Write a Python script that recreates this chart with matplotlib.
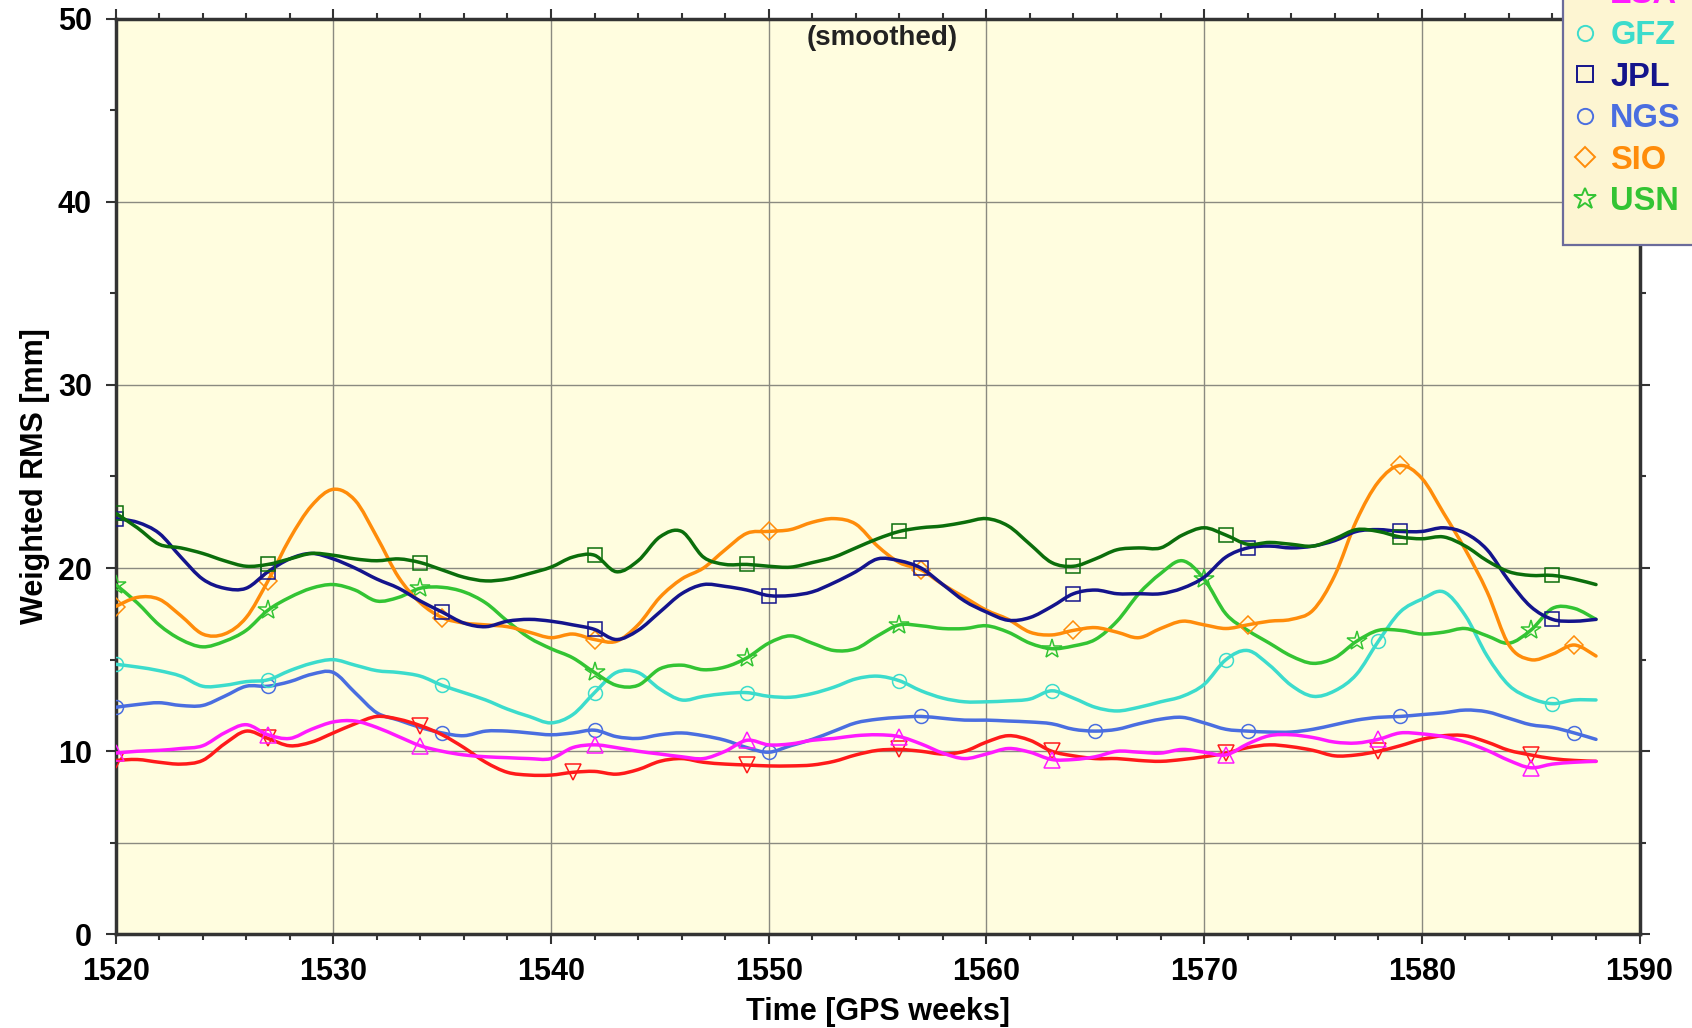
import numpy as np
import matplotlib
matplotlib.use("Agg")
import matplotlib.pyplot as plt
from matplotlib.lines import Line2D
from matplotlib.path import Path
from matplotlib.patches import PathPatch, Rectangle
from matplotlib.ticker import MultipleLocator

plt.rcParams['font.family'] = ['Liberation Sans', 'DejaVu Sans']

weeks = list(range(1520, 1589))

cod = [23.0, 22.2, 21.3, 21.1, 20.8, 20.4, 20.1, 20.2, 20.5, 20.8,
       20.7, 20.5, 20.4, 20.5, 20.3, 19.9, 19.5, 19.3, 19.4, 19.7,
       20.05, 20.6, 20.7, 19.8, 20.4, 21.7, 22.0, 20.6, 20.2, 20.2,
       20.1, 20.05, 20.3, 20.6, 21.1, 21.6, 22.0, 22.2, 22.3, 22.5,
       22.7, 22.3, 21.3, 20.3, 20.1, 20.5, 21.0, 21.1, 21.1, 21.8,
       22.2, 21.8, 21.3, 21.4, 21.3, 21.2, 21.6, 22.1, 22.0, 21.7,
       21.6, 21.7, 21.2, 20.4, 19.8, 19.6, 19.6, 19.4, 19.1]
emr = [9.5, 9.55, 9.4, 9.3, 9.5, 10.4, 11.1, 10.7, 10.3, 10.5,
       11.0, 11.5, 11.9, 11.75, 11.4, 10.9, 10.2, 9.4, 8.85, 8.7,
       8.7, 8.85, 8.9, 8.75, 9.0, 9.45, 9.6, 9.4, 9.3, 9.25,
       9.2, 9.2, 9.25, 9.45, 9.8, 10.05, 10.1, 10.0, 9.85, 10.0,
       10.5, 10.85, 10.6, 10.0, 9.75, 9.6, 9.6, 9.5, 9.45, 9.55,
       9.7, 9.9, 10.2, 10.35, 10.25, 10.05, 9.75, 9.8, 10.0, 10.3,
       10.65, 10.85, 10.85, 10.5, 10.05, 9.8, 9.6, 9.5, 9.45]
esa = [9.9, 10.0, 10.05, 10.15, 10.3, 11.0, 11.45, 10.9, 10.7, 11.2,
       11.6, 11.65, 11.3, 10.8, 10.3, 10.0, 9.8, 9.7, 9.65, 9.6,
       9.6, 10.2, 10.35, 10.2, 10.0, 9.85, 9.7, 9.6, 10.0, 10.6,
       10.35, 10.4, 10.6, 10.7, 10.85, 10.9, 10.8, 10.4, 9.9, 9.6,
       9.85, 10.15, 9.95, 9.55, 9.55, 9.7, 10.0, 9.95, 9.9, 10.1,
       9.95, 9.8, 10.4, 10.85, 10.9, 10.75, 10.5, 10.45, 10.65, 11.0,
       10.95, 10.8, 10.5, 10.05, 9.5, 9.1, 9.3, 9.4, 9.45]
gfz = [14.75, 14.6, 14.4, 14.1, 13.55, 13.6, 13.8, 13.9, 14.4, 14.8,
       15.0, 14.7, 14.4, 14.3, 14.1, 13.6, 13.2, 12.8, 12.3, 11.9,
       11.55, 12.0, 13.2, 14.3, 14.3, 13.4, 12.8, 13.0, 13.15, 13.2,
       13.0, 12.95, 13.15, 13.5, 13.95, 14.1, 13.85, 13.3, 12.9, 12.7,
       12.7, 12.75, 12.85, 13.3, 12.9, 12.4, 12.2, 12.4, 12.7, 13.0,
       13.65, 15.0, 15.5, 14.7, 13.6, 13.0, 13.3, 14.2, 16.0, 17.6,
       18.3, 18.7, 17.4, 15.2, 13.6, 12.9, 12.6, 12.8, 12.8]
jpl = [22.7, 22.5, 21.9, 20.6, 19.4, 18.9, 18.9, 19.8, 20.5, 20.8,
       20.5, 20.0, 19.4, 18.9, 18.2, 17.6, 17.0, 16.8, 17.1, 17.2,
       17.1, 16.9, 16.65, 16.1, 16.6, 17.6, 18.6, 19.1, 19.0, 18.8,
       18.5, 18.5, 18.7, 19.2, 19.8, 20.5, 20.4, 20.0, 19.1, 18.2,
       17.6, 17.15, 17.3, 17.9, 18.6, 18.8, 18.6, 18.6, 18.6, 18.9,
       19.5, 20.6, 21.1, 21.2, 21.1, 21.2, 21.5, 22.0, 22.1, 22.0,
       22.0, 22.2, 21.9, 21.0, 19.3, 17.9, 17.2, 17.1, 17.2]
ngs = [12.4, 12.55, 12.65, 12.5, 12.5, 13.0, 13.55, 13.55, 13.8, 14.2,
       14.3, 13.2, 12.1, 11.7, 11.3, 11.0, 10.85, 11.1, 11.1, 11.0,
       10.9, 11.0, 11.15, 10.8, 10.7, 10.9, 11.0, 10.85, 10.6, 10.2,
       9.95, 10.3, 10.65, 11.1, 11.55, 11.75, 11.85, 11.9, 11.8, 11.7,
       11.7, 11.65, 11.6, 11.5, 11.2, 11.1, 11.2, 11.5, 11.75, 11.85,
       11.55, 11.2, 11.1, 11.05, 11.05, 11.2, 11.45, 11.7, 11.85, 11.9,
       12.0, 12.1, 12.25, 12.15, 11.8, 11.45, 11.3, 11.0, 10.65]
sio = [17.9, 18.4, 18.3, 17.4, 16.4, 16.4, 17.3, 19.3, 21.6, 23.4,
       24.3, 23.7, 21.7, 19.5, 18.1, 17.3, 17.0, 16.9, 16.8, 16.5,
       16.2, 16.4, 16.1, 16.0, 16.9, 18.4, 19.4, 20.0, 21.0, 21.9,
       22.0, 22.1, 22.5, 22.7, 22.4, 21.2, 20.3, 19.9, 19.1, 18.4,
       17.7, 17.2, 16.5, 16.35, 16.6, 16.75, 16.5, 16.2, 16.7, 17.1,
       16.9, 16.7, 16.9, 17.1, 17.2, 17.7, 19.6, 22.6, 24.7, 25.6,
       24.9, 23.0, 21.0, 18.7, 15.8, 15.0, 15.3, 15.8, 15.2]
usn = [19.1, 18.1, 16.9, 16.1, 15.7, 16.0, 16.6, 17.7, 18.4, 18.9,
       19.1, 18.8, 18.2, 18.4, 18.9, 18.95, 18.7, 18.1, 17.1, 16.2,
       15.6, 15.1, 14.3, 13.6, 13.6, 14.5, 14.7, 14.45, 14.6, 15.1,
       15.9, 16.3, 15.9, 15.5, 15.6, 16.3, 16.9, 16.85, 16.7, 16.7,
       16.85, 16.5, 15.9, 15.6, 15.75, 16.1, 17.1, 18.6, 19.7, 20.4,
       19.4, 17.5, 16.6, 15.9, 15.2, 14.8, 15.1, 16.0, 16.6, 16.6,
       16.4, 16.5, 16.7, 16.3, 15.9, 16.6, 17.8, 17.8, 17.2]

labels = ['COD', 'EMR', 'ESA', 'GFZ', 'JPL', 'NGS', 'SIO', 'USN']
series = [cod, emr, esa, gfz, jpl, ngs, sio, usn]

styles = {
    'COD': dict(color='#0b6e0b', marker='s', ms=10, mark=[0, 7, 14, 22, 29, 36, 44, 51, 59, 66]),
    'EMR': dict(color='#ff1a1a', marker='v', ms=11, mark=[0, 7, 14, 21, 29, 36, 43, 51, 58, 65]),
    'ESA': dict(color='#ff1aff', marker='^', ms=11, mark=[0, 7, 14, 22, 29, 36, 43, 51, 58, 65]),
    'GFZ': dict(color='#3cdccc', marker='o', ms=10, mark=[0, 7, 15, 22, 29, 36, 43, 51, 58, 66]),
    'JPL': dict(color='#14148c', marker='s', ms=10, mark=[0, 7, 15, 22, 30, 37, 44, 52, 59, 66]),
    'NGS': dict(color='#4a6ee0', marker='o', ms=10, mark=[0, 7, 15, 22, 30, 37, 45, 52, 59, 67]),
    'SIO': dict(color='#ff8c0a', marker='D', ms=9, mark=[0, 7, 15, 22, 30, 37, 44, 52, 59, 67]),
    'USN': dict(color='#33c433', marker='*', ms=15, mark=[0, 7, 14, 22, 29, 36, 43, 50, 57, 65]),
}


def smooth_path(x, y):
    """Catmull-Rom curve through the data points, as cubic Bezier segments."""
    p = np.column_stack([np.asarray(x, float), np.asarray(y, float)])
    ext = np.vstack([p[0], p, p[-1]])
    verts = [p[0]]
    codes = [Path.MOVETO]
    for i in range(len(p) - 1):
        p0, p1, p2, p3 = ext[i], ext[i + 1], ext[i + 2], ext[i + 3]
        verts += [p1 + (p2 - p0) / 6.0, p2 - (p3 - p1) / 6.0, p2]
        codes += [Path.CURVE4] * 3
    return Path(verts, codes)


fig = plt.figure(figsize=(16.92, 10.28), dpi=100)
ax = fig.add_axes([0.0683, 0.091, 0.9007, 0.891])
ax.set_facecolor('#fffddf')

draw_order = ['NGS', 'GFZ', 'EMR', 'ESA', 'USN', 'SIO', 'JPL', 'COD']
for name in draw_order:
    vals = series[labels.index(name)]
    st = styles[name]
    ax.add_patch(PathPatch(smooth_path(weeks, vals), fill=False, edgecolor=st['color'],
                           lw=2.5, capstyle='round', joinstyle='round', zorder=3))
    ax.plot(weeks, vals, ls='none', marker=st['marker'], ms=st['ms'], mfc='none',
            mec=st['color'], mew=1.1, markevery=st['mark'], zorder=3)

ax.set_xlim(1520, 1590)
ax.set_ylim(0, 50)
ax.xaxis.set_major_locator(MultipleLocator(10))
ax.xaxis.set_minor_locator(MultipleLocator(2))
ax.yaxis.set_major_locator(MultipleLocator(10))
ax.yaxis.set_minor_locator(MultipleLocator(5))

for y in [5, 10, 20, 30, 40]:
    ax.axhline(y, color='#8a8a80', lw=1.0, zorder=1)
for x in [1530, 1540, 1550, 1560, 1570, 1580]:
    ax.axvline(x, color='#8a8a80', lw=1.0, zorder=1)

ax.tick_params(which='both', direction='out', top=True, right=True,
               color='#333333', width=1.5)
ax.tick_params(which='major', length=7, labelsize=22)
ax.tick_params(which='minor', length=4.5)
ax.tick_params(axis='x', which='major', pad=9)
ax.tick_params(axis='y', which='major', pad=10)
for lab in ax.get_xticklabels() + ax.get_yticklabels():
    lab.set_fontweight('bold')
for sp in ax.spines.values():
    sp.set_linewidth(2.5)
    sp.set_color('#333333')

ax.set_xlabel('Time [GPS weeks]', fontsize=22, fontweight='bold')
ax.set_ylabel('Weighted RMS [mm]', fontsize=22, fontweight='bold')
ax.xaxis.set_label_coords(0.5, -0.068)
ax.yaxis.set_label_coords(-0.043, 0.5)

ax.text(0.503, 0.979, '(smoothed)', transform=ax.transAxes, ha='center',
        va='center', fontsize=20, fontweight='bold', color='#222222')

# legend frame (extends beyond the top and right edges, as in the original)
fig.patches.append(Rectangle((1563 / 1692, (1028 - 245) / 1028), 0.2, 0.4,
                             transform=fig.transFigure, facecolor='#fdf5d2',
                             edgecolor='#6b6b9b', lw=1.6, zorder=4))

handles = [Line2D([], [], ls='none', marker=styles[n]['marker'], ms=styles[n]['ms'] * 1.1,
                  mfc='none', mec=styles[n]['color'], mew=1.4) for n in labels]
leg = fig.legend(handles, labels, loc='lower left',
                 bbox_to_anchor=(1572 / 1692, (1028 - 217) / 1028),
                 prop=dict(family=['Liberation Sans', 'DejaVu Sans'], weight='bold', size=23.5),
                 frameon=False, handlelength=0.8, handletextpad=0.37, borderpad=0,
                 labelspacing=0.32, borderaxespad=0)
leg.set_zorder(5)
for txt, n in zip(leg.get_texts(), labels):
    txt.set_color(styles[n]['color'])

fig.savefig('out.png', dpi=100)
